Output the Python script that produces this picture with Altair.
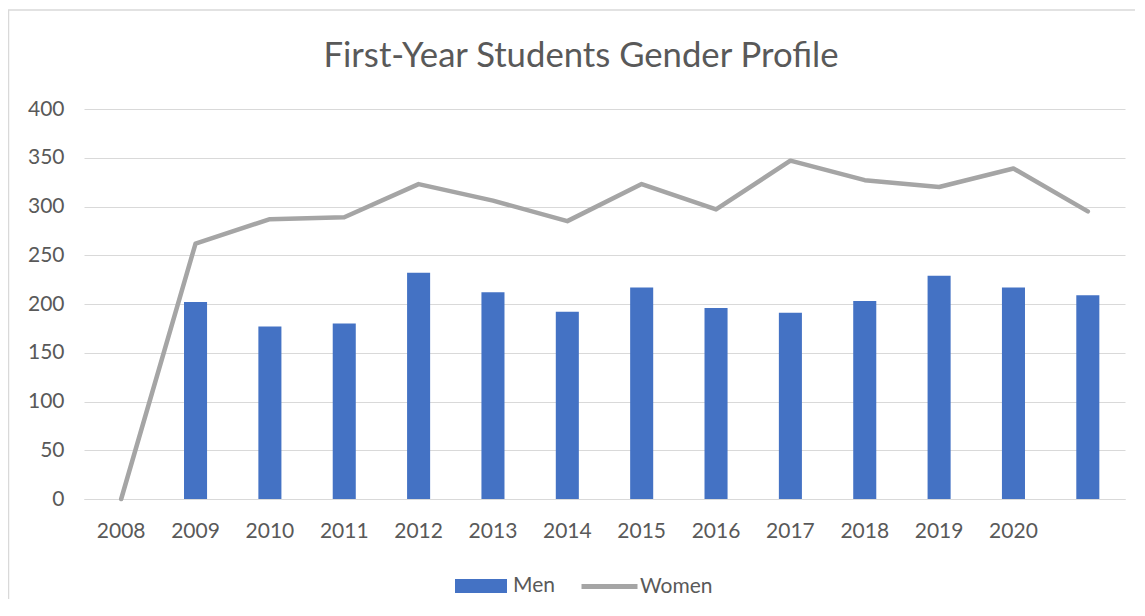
import altair as alt
import pandas as pd

years = ["2008", "2009", "2010", "2011", "2012", "2013", "2014",
         "2015", "2016", "2017", "2018", "2019", "2020", ""]
men = [None, 202, 177, 180, 232, 212, 192, 217, 196, 191, 203, 229, 217, 209]
women = [0, 262, 287, 289, 323, 306, 285, 323, 297, 347, 327, 320, 339, 295]
y_ticks = [0, 50, 100, 150, 200, 250, 300, 350, 400]
title_text = "First-Year Students Gender Profile"

df = pd.DataFrame({
    "idx": list(range(len(years))),
    "label": years,
    "Men": men,
    "Women": women,
    "s1": ["Men"] * len(years),
    "s2": ["Women"] * len(years),
})

FONT = "Lato"
TXT = "#595959"
GRID = "#D9D9D9"

label_expr = "[" + ",".join("'" + y + "'" for y in years) + "][datum.value]"

x_enc = alt.X(
    "idx:O",
    scale=alt.Scale(paddingInner=0.69, paddingOuter=0.345),
    axis=alt.Axis(title=None, labelExpr=label_expr, labelAngle=0, ticks=False,
                  domainColor=GRID, domainWidth=1, labelPadding=21,
                  labelFont=FONT, labelFontSize=21, labelColor=TXT, grid=False),
)
y_scale = alt.Scale(domain=[0, 400])
y_axis = alt.Axis(title=None, values=y_ticks, ticks=False, domain=False,
                  gridColor=GRID, gridWidth=1, labelPadding=20,
                  labelFont=FONT, labelFontSize=21, labelColor=TXT)

base = alt.Chart(df)

bars = base.mark_bar().encode(
    x=x_enc,
    y=alt.Y("Men:Q", scale=y_scale, axis=y_axis),
    fill=alt.Fill("s1:N", scale=alt.Scale(domain=["Men"], range=["#4472C4"]),
                  legend=alt.Legend(title=None, orient="none", legendX=371, legendY=451,
                                    symbolType="M-1,-0.27H1V0.27H-1Z", symbolSize=2704,
                                    symbolStrokeWidth=0, padding=0, labelOffset=6,
                                    labelFont=FONT, labelFontSize=21, labelColor=TXT)),
)

line = base.mark_line(strokeWidth=4.5, strokeCap="round", strokeJoin="round").encode(
    x=x_enc,
    y=alt.Y("Women:Q", scale=y_scale, axis=y_axis),
    stroke=alt.Stroke("s2:N", scale=alt.Scale(domain=["Women"], range=["#A5A5A5"]),
                      legend=alt.Legend(title=None, orient="none", legendX=495, legendY=447,
                                        symbolType="stroke", symbolSize=3136,
                                        symbolStrokeWidth=5, padding=0, labelOffset=0,
                                        labelFont=FONT, labelFontSize=21, labelColor=TXT)),
)

frame = alt.Chart(alt.Data(values=[{"a": 1}])).mark_rect(
    fill="transparent", stroke=GRID, strokeWidth=1.5
).encode(
    x=alt.value(-75.5), x2=alt.value(1110), y=alt.value(-99), y2=alt.value(620)
)

title = alt.Chart(alt.Data(values=[{"t": title_text}])).mark_text(
    font=FONT, fontSize=34.7, fontWeight="normal", color=TXT,
    align="center", baseline="alphabetic"
).encode(
    text="t:N", x=alt.value(497), y=alt.value(-42)
)

chart = alt.layer(frame, title, bars, line).properties(
    width=1041,
    height=390,
    autosize=alt.AutoSizeParams(type="none"),
    padding={"left": 76, "top": 101, "right": 10, "bottom": 100},
    background="white",
).configure_view(stroke=None)

chart.save("out.html", embed_options={"renderer": "svg", "actions": False})
